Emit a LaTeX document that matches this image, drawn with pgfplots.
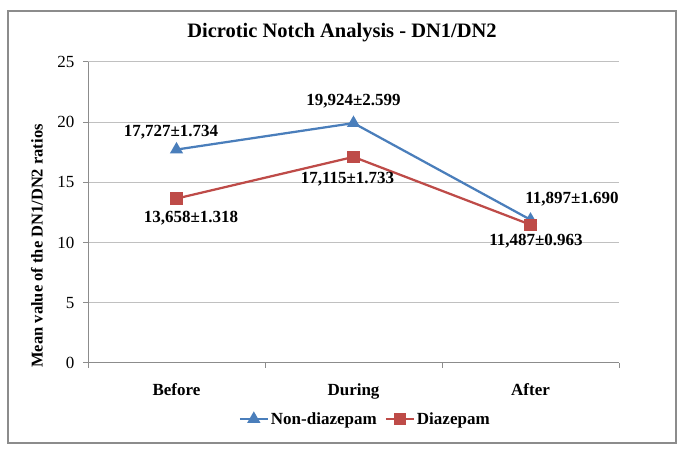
\documentclass[border=0pt]{standalone}
\usepackage{fontspec}
\setmainfont{Liberation Serif}
\usepackage{pgfplots}
\pgfplotsset{compat=1.18}
\definecolor{ser1}{HTML}{4A7EBB}
\definecolor{ser2}{HTML}{BE4B48}
\definecolor{gridc}{HTML}{C0C0C0}
\definecolor{axc}{HTML}{8C8C8C}
\begin{document}
\begin{tikzpicture}[x=1pt,y=1pt]
\useasboundingbox (0,0) rectangle (685,454);
\draw[axc, line width=1.2pt] (8,11) rectangle (676,443);
\node[font=\fontsize{20.5}{24}\selectfont\bfseries] at (342,421) {Dicrotic Notch Analysis - DN1/DN2};
\node[font=\fontsize{16.5}{20}\selectfont\bfseries, rotate=90] at (37,208) {Mean value of the DN1/DN2 ratios};
\begin{axis}[at={(88pt,91pt)}, anchor=south west, scale only axis,
  width=531pt, height=301pt, clip=false,
  xmin=-0.5, xmax=2.5, ymin=0, ymax=25, ytick={0,5,...,25},
  xtick={0,1,2}, xticklabels={Before,During,After},
  minor xtick={-0.5,0.5,1.5,2.5},
  axis lines=left, axis line style={-, axc, line width=1pt},
  ymajorgrids, grid style={gridc, line width=1pt},
  tick align=outside, major tick length=5pt, minor tick length=5pt,
  major x tick style={draw=none}, minor x tick style={axc, line width=1pt},
  ytick style={axc, line width=1pt},
  /pgf/number format/assume math mode=true,
  yticklabel style={font=\fontsize{17}{20}\selectfont, text=black, xshift=-5pt},
  xticklabel style={font=\fontsize{17}{20}\selectfont\bfseries, text=black, anchor=base, yshift=-28pt},
  legend style={at={(axis description cs:0.522,-0.186)}, anchor=center, draw=none, fill=none,
    legend columns=2, font=\fontsize{17}{20}\selectfont\bfseries,
    /tikz/every even column/.append style={column sep=6pt}},
  legend image code/.code={\draw[mark repeat=2,mark phase=2] plot coordinates {(0pt,0pt)(14pt,0pt)(28pt,0pt)};},
  visualization depends on={value \thisrow{dx}\as\dx},
  visualization depends on={value \thisrow{dy}\as\dy},
  point meta=explicit symbolic,
  nodes near coords,
  every node near coord/.style={anchor=center, xshift=\dx pt, yshift=\dy pt,
    font=\fontsize{17}{20}\selectfont\bfseries, text=black},
]
\addplot[ser1, line width=2.25pt, mark=triangle*, mark size=5.4pt, mark options={solid}]
  table[x=x, y=y, meta=lab]{
x y dx dy lab
0 17.727 -5.5 17.6 17,727±1.734
1 19.924 0 22 19,924±2.599
2 11.897 41.5 21 11,897±1.690
};
\addlegendentry{Non-diazepam}
\addplot[ser2, line width=2.25pt, mark=square*, mark size=5pt, mark options={solid}]
  table[x=x, y=y, meta=lab]{
x y dx dy lab
0 13.658 14.5 -19.5 13,658±1.318
1 17.115 -6 -22 17,115±1.733
2 11.487 5.5 -16.5 11,487±0.963
};
\addlegendentry{Diazepam}
\end{axis}
\end{tikzpicture}
\end{document}
